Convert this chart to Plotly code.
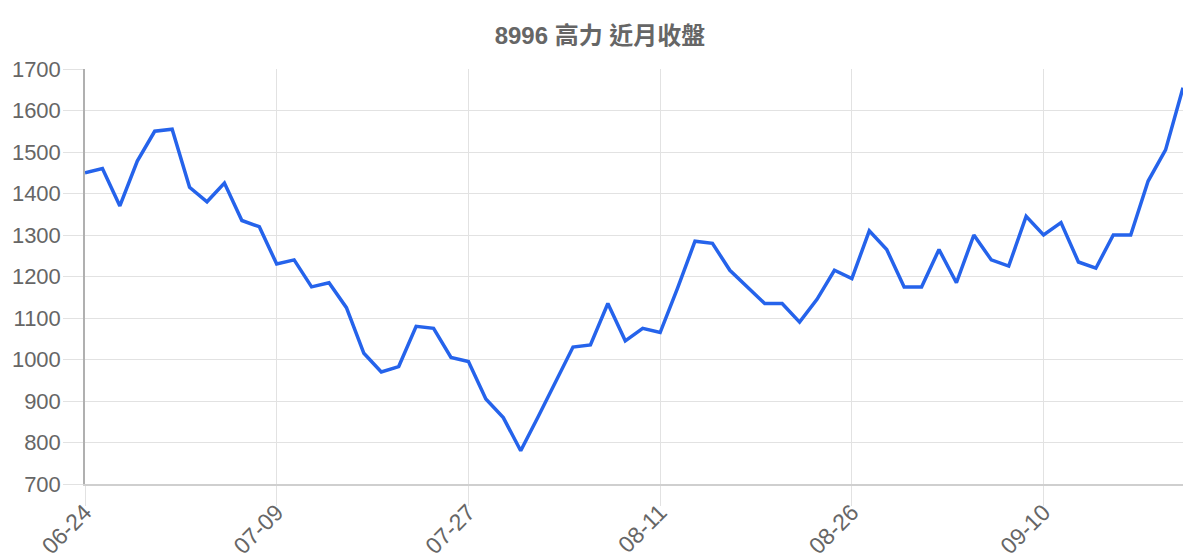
import plotly.graph_objects as go

# trading dates (category axis) and close prices
dates = [
    "06-24", "06-25", "06-26", "06-27", "06-30", "07-01", "07-02", "07-03", "07-04", "07-07", "07-08",
    "07-09", "07-10", "07-11", "07-14", "07-15", "07-16", "07-17", "07-18", "07-21", "07-22", "07-23",
    "07-27", "07-28", "07-29", "07-30", "07-31", "08-01", "08-04", "08-05", "08-06", "08-07", "08-08",
    "08-11", "08-12", "08-13", "08-14", "08-15", "08-18", "08-19", "08-20", "08-21", "08-22", "08-25",
    "08-26", "08-27", "08-28", "08-29", "09-01", "09-02", "09-03", "09-04", "09-05", "09-08", "09-09",
    "09-10", "09-11", "09-12", "09-15", "09-16", "09-17", "09-18", "09-19", "09-22",
]
close = [
    1450, 1460, 1370, 1478, 1550, 1555, 1415, 1380, 1425, 1335, 1320,
    1230, 1240, 1175, 1185, 1125, 1015, 970, 983, 1080, 1075, 1005,
    995, 905, 860, 780, 862, 945, 1030, 1035, 1135, 1045, 1075,
    1065, 1172, 1285, 1280, 1215, 1175, 1135, 1135, 1090, 1145, 1215,
    1195, 1310, 1265, 1175, 1175, 1265, 1185, 1300, 1240, 1225, 1345,
    1300, 1330, 1235, 1220, 1300, 1300, 1430, 1505, 1655,
]
tick_dates = dates[::11]

fig = go.Figure()
fig.add_trace(go.Scatter(x=dates, y=close, mode="lines",
                         line=dict(color="#2563eb", width=3.5), name="收盤"))

# page body has an 8px margin, so the figure is shifted by 8px
fig.update_layout(
    width=1184, height=552,
    margin=dict(l=77, r=9, t=61, b=76, autoexpand=False),
    paper_bgcolor="white", plot_bgcolor="white",
    font=dict(family="Liberation Sans, Arial, Noto Sans CJK TC", size=24, color="#666"),
    title=dict(text="<b>8996 高力 近月收盤</b>", x=0.5, xanchor="center",
               y=1 - 28 / 552, yanchor="middle",
               font=dict(family="Liberation Sans, Noto Sans CJK TC", size=24, color="#666")),
    showlegend=False,
)
fig.update_xaxes(
    type="category", range=[0, len(dates) - 1], automargin=False,
    tickmode="array", tickvals=tick_dates, ticktext=tick_dates, tickangle=-45,
    tickfont=dict(size=23),
    showgrid=True, gridcolor="#e2e2e2", gridwidth=1,
    ticks="outside", ticklen=20, tickcolor="#e2e2e2", ticklabelstandoff=-16,
    showline=True, linecolor="#cfcfcf", linewidth=1.5,
    zeroline=False,
)
fig.update_yaxes(
    range=[700, 1700], dtick=100, automargin=False,
    tickfont=dict(size=22), ticklabelstandoff=-2,
    showgrid=True, gridcolor="#e2e2e2", gridwidth=1,
    ticks="outside", ticklen=20, tickcolor="#e2e2e2",
    showline=True, linecolor="#b0b0b0", linewidth=1.5,
    zeroline=False,
)

fig.write_html("out.html")
